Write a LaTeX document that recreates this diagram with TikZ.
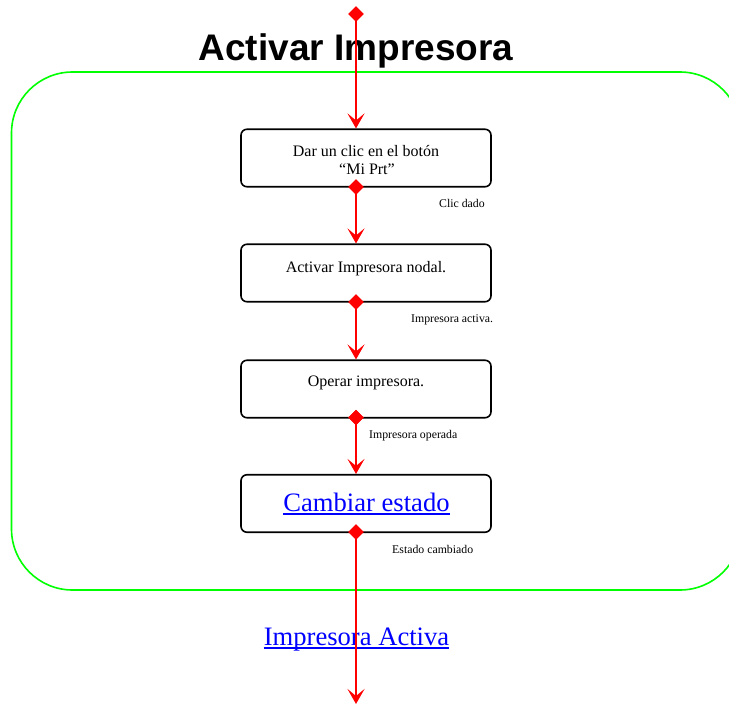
\documentclass[tikz,border=0pt]{standalone}
\usepackage{fontspec}
\setmainfont{Liberation Serif}
\newfontfamily\titlefont{Liberation Sans}
\usetikzlibrary{shapes.geometric,arrows.meta}
\definecolor{flowred}{RGB}{255,0,0}
\definecolor{groupgreen}{RGB}{0,255,0}
\definecolor{linkblue}{RGB}{0,0,255}
\tikzset{
  stepbox/.style={draw=black, line width=1.6pt, rounded corners=6pt,
    minimum width=250pt, minimum height=57.5pt, inner sep=0pt},
  steptext/.style={anchor=base, inner sep=0pt, font=\fontsize{16}{18}\selectfont},
  flowlabel/.style={anchor=base west, inner sep=0pt, font=\fontsize{11.8}{13}\selectfont},
  linktext/.style={anchor=base, inner sep=0pt, text=linkblue, font=\fontsize{26.6}{30}\selectfont},
  pin/.style={diamond, fill=flowred, inner sep=0pt, minimum width=15.5pt, minimum height=15.5pt},
  flow/.style={draw=flowred, line width=2.6pt,
    -{Stealth[length=15pt, width=17pt, inset=7pt]}},
  group/.style={draw=groupgreen, line width=1.6pt, rounded corners=61pt},
}
\begin{document}
\begin{tikzpicture}[x=1pt, y=-1pt]
  \clip (0,0) rectangle (729,704);
  \fill[white] (0,0) rectangle (729,704);

  % heading
  \node[anchor=base, inner sep=0pt, font=\titlefont\bfseries\fontsize{37}{40}\selectfont]
    (title) at (356,60) {Activar Impresora};

  % swimlane frame, open to the right
  \draw[group] (11.5,72) rectangle (741,590);

  % step boxes
  \node[stepbox] (b1) at (366,158) {};
  \node[stepbox] (b2) at (366,273) {};
  \node[stepbox] (b3) at (366,389) {};
  \node[stepbox] (b4) at (366,503.5) {};

  \node[steptext] (t1a) at (366,156) {Dar un clic en el botón};
  \node[steptext] (t1b) at (367,174) {“Mi Prt”};
  \node[steptext] (t2) at (366,272.7) {Activar Impresora nodal.};
  \node[steptext] (t3) at (366,386.5) {Operar impresora.};
  \node[linktext] (t4) at (366.5,511.5) {Cambiar estado};
  \draw[linkblue, line width=1.7pt] ([yshift=-2.6pt]t4.base west) -- ([yshift=-2.6pt]t4.base east);

  % transition labels
  \node[flowlabel] (l1) at (439,207) {Clic dado};
  \node[flowlabel] (l2) at (411,322.5) {Impresora activa.};
  \node[flowlabel] (l3) at (369,438) {Impresora operada};
  \node[flowlabel] (l4) at (392,553) {Estado cambiado};

  % outcome
  \node[linktext] (out) at (356.5,645) {Impresora Activa};
  \draw[linkblue, line width=1.7pt] ([yshift=-3pt]out.base west) -- ([yshift=-3pt]out.base east);

  % control flow
  \node[pin] (d0) at (356,14) {};
  \node[pin] (d1) at (356,187) {};
  \node[pin] (d2) at (356,302) {};
  \node[pin] (d3) at (356,417.5) {};
  \node[pin] (d4) at (356,532) {};
  \coordinate (end) at (356,704);

  \draw[flow] (d0.center) -- (d0.center |- b1.north);
  \draw[flow] (d1.center) -- (d1.center |- b2.north);
  \draw[flow] (d2.center) -- (d2.center |- b3.north);
  \draw[flow] (d3.center) -- (d3.center |- b4.north);
  \draw[flow] (d4.center) -- (end);

  \node[pin] at (d0) {};
  \node[pin] at (d1) {};
  \node[pin] at (d2) {};
  \node[pin] at (d3) {};
  \node[pin] at (d4) {};
\end{tikzpicture}
\end{document}
